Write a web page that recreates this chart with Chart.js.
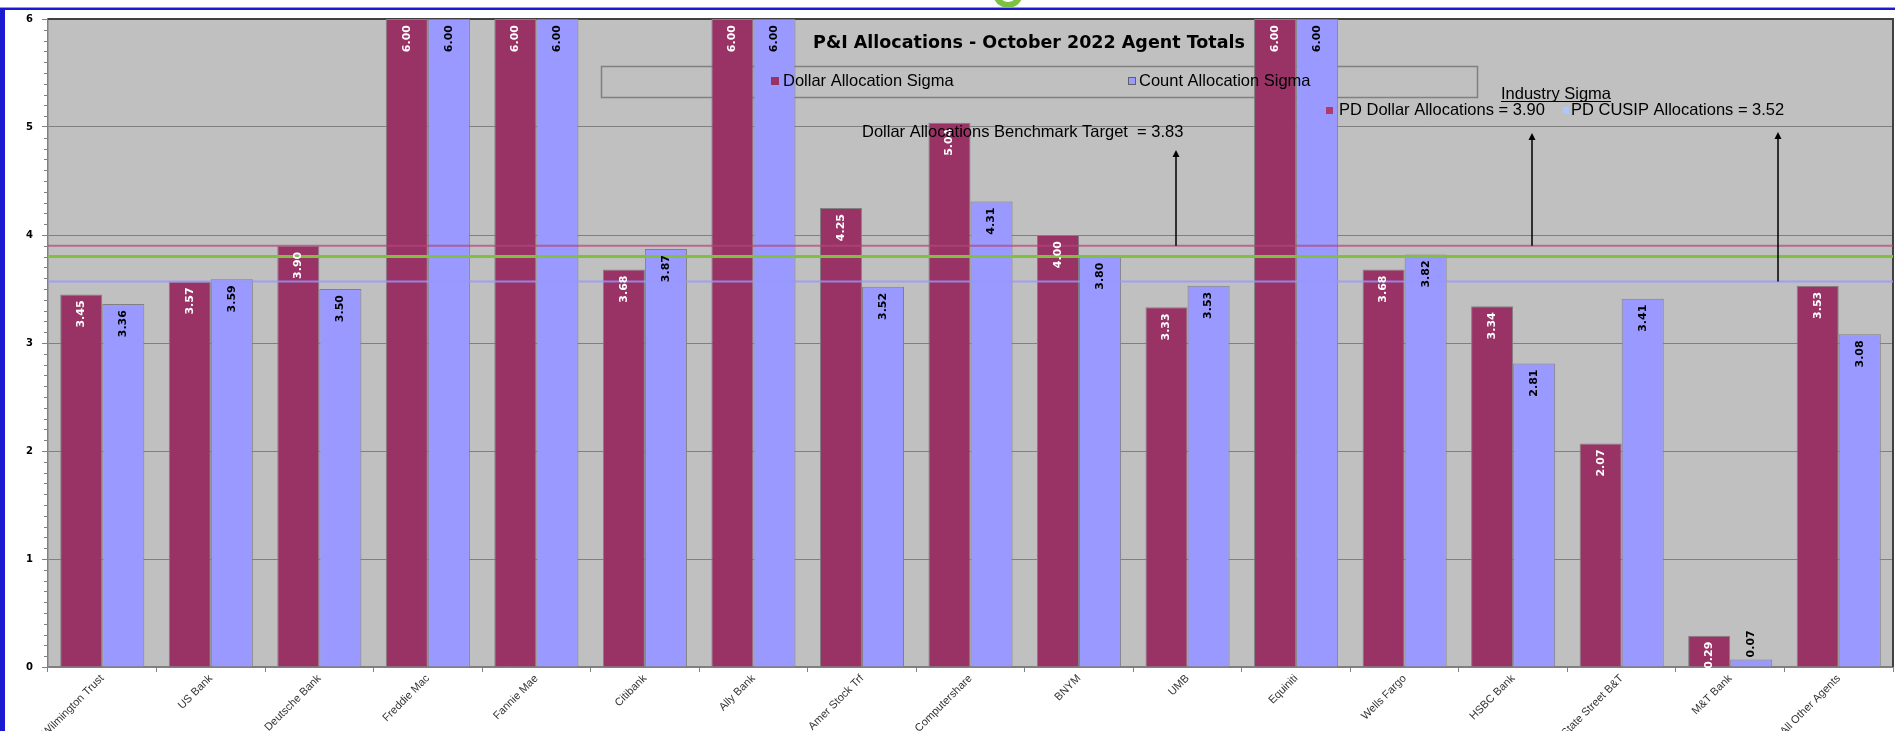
<!DOCTYPE html>
<html>
<head>
<meta charset="utf-8">
<script src="https://cdn.jsdelivr.net/npm/chart.js@4/dist/chart.umd.min.js"></script>
<style>
html, body { margin: 0; padding: 0; background: #fff; overflow: hidden; }
#wrap { width: 1895px; height: 731px; position: relative; }
</style>
</head>
<body>
<div id="wrap"><canvas id="myChart"></canvas></div>
<script>
// Agents on the x axis
const agents = ['Wilmington Trust', 'US Bank', 'Deutsche Bank', 'Freddie Mac', 'Fannie Mae', 'Citibank',
    'Ally Bank', 'Amer Stock Trf', 'Computershare', 'BNYM', 'UMB', 'Equiniti', 'Wells Fargo',
    'HSBC Bank', 'State Street B&T', 'M&T Bank', 'All Other Agents'];

// Sigma values per agent
const dollarSigma = [3.45, 3.57, 3.90, 6.00, 6.00, 3.68, 6.00, 4.25, 5.04, 4.00, 3.33, 6.00, 3.68, 3.34, 2.07, 0.29, 3.53];
const countSigma  = [3.36, 3.59, 3.50, 6.00, 6.00, 3.87, 6.00, 3.52, 4.31, 3.80, 3.53, 6.00, 3.82, 2.81, 3.41, 0.07, 3.08];

// y axis ticks
const yTicks = [0, 1, 2, 3, 4, 5, 6];

// reference lines (where they sit on the chart)
const dollarIndustryLine = 3.90;
const benchmarkLine = 3.80;
const cusipIndustryLine = 3.57;

// annotation values (as printed)
const benchmarkTarget = '3.83';
const industryDollar = '3.90';
const industryCusip = '3.52';

const DOLLAR_COLOR = '#993366';
const COUNT_COLOR = '#9999FF';
const NOTE_FONT = '16.5px "Liberation Sans"';

function arrow(ctx, x, yTop, yBottom) {
    ctx.save();
    ctx.strokeStyle = '#000';
    ctx.fillStyle = '#000';
    ctx.lineWidth = 1.5;
    ctx.beginPath();
    ctx.moveTo(x, yBottom);
    ctx.lineTo(x, yTop + 5);
    ctx.stroke();
    ctx.beginPath();
    ctx.moveTo(x, yTop);
    ctx.lineTo(x - 3.5, yTop + 7);
    ctx.lineTo(x + 3.5, yTop + 7);
    ctx.closePath();
    ctx.fill();
    ctx.restore();
}

const backdrop = {
    id: 'backdrop',
    beforeDraw(chart) {
        const ctx = chart.ctx;
        const a = chart.chartArea;
        ctx.save();
        ctx.fillStyle = '#fff';
        ctx.fillRect(0, 0, chart.width, chart.height);
        // page frame
        ctx.fillStyle = '#9a9ab0';
        ctx.fillRect(0, 7, chart.width, 1);
        ctx.fillStyle = '#1a1ad0';
        ctx.fillRect(0, 8, chart.width, 2);
        ctx.fillRect(0, 8, 5, chart.height);
        // bit of a logo cut off at the top
        ctx.strokeStyle = '#7cc242';
        ctx.lineWidth = 6;
        ctx.beginPath();
        ctx.arc(1008, -7, 12, 0.15 * Math.PI, 0.95 * Math.PI);
        ctx.stroke();
        // plot background
        ctx.fillStyle = '#C0C0C0';
        ctx.fillRect(a.left, a.top, a.right - a.left, a.bottom - a.top);
        ctx.restore();
    },
    beforeDatasetsDraw(chart) {
        const ctx = chart.ctx;
        const a = chart.chartArea;
        const y = chart.scales.y;
        ctx.save();
        // dark top / right border
        ctx.strokeStyle = '#404040';
        ctx.lineWidth = 2;
        ctx.beginPath();
        ctx.moveTo(a.left, a.top);
        ctx.lineTo(a.right, a.top);
        ctx.lineTo(a.right, a.bottom);
        ctx.stroke();
        // minor ticks on y axis
        ctx.strokeStyle = '#808080';
        ctx.lineWidth = 1;
        for (let v = 0; v < 6; v += 1) {
            for (let k = 1; k < 10; k++) {
                const py = Math.round(y.getPixelForValue(v + k / 10)) + 0.5;
                ctx.beginPath();
                ctx.moveTo(a.left - 4, py);
                ctx.lineTo(a.left, py);
                ctx.stroke();
            }
        }
        // legend box (sits behind the bars)
        ctx.strokeStyle = '#808080';
        ctx.lineWidth = 1.5;
        ctx.strokeRect(601.5, 66.5, 876, 31);
        ctx.restore();
    },
    afterDatasetsDraw(chart) {
        const ctx = chart.ctx;
        const a = chart.chartArea;
        const y = chart.scales.y;
        ctx.save();

        // reference lines
        const lines = [
            [dollarIndustryLine, 'rgba(180, 70, 120, 0.7)', 2],
            [benchmarkLine, '#80c040', 3],
            [cusipIndustryLine, 'rgba(150, 150, 255, 0.8)', 2]
        ];
        lines.forEach(([v, col, w]) => {
            const py = y.getPixelForValue(v);
            ctx.strokeStyle = col;
            ctx.lineWidth = w;
            ctx.beginPath();
            ctx.moveTo(a.left, py);
            ctx.lineTo(a.right, py);
            ctx.stroke();
        });

        // value labels, rotated
        ctx.font = 'bold 11px "DejaVu Sans"';
        ctx.textBaseline = 'middle';
        chart.data.datasets.forEach((ds, di) => {
            const meta = chart.getDatasetMeta(di);
            meta.data.forEach((bar, i) => {
                const txt = ds.data[i].toFixed(2);
                const h = bar.base - bar.y;
                ctx.save();
                ctx.fillStyle = di === 0 ? '#fff' : '#000';
                if (h < 20) {
                    ctx.translate(bar.x, bar.y - 2);
                    ctx.rotate(-Math.PI / 2);
                    ctx.textAlign = 'left';
                    ctx.fillStyle = '#000';
                } else {
                    ctx.translate(bar.x, bar.y + 6);
                    ctx.rotate(-Math.PI / 2);
                    ctx.textAlign = 'right';
                }
                ctx.fillText(txt, 0, 0);
                ctx.restore();
            });
        });

        // title
        ctx.fillStyle = '#000';
        ctx.textAlign = 'center';
        ctx.font = 'bold 17.5px "DejaVu Sans"';
        ctx.fillText('P&I Allocations - October 2022 Agent Totals', 1029, 43);

        // legend
        ctx.textAlign = 'left';
        ctx.font = NOTE_FONT;
        ctx.fillStyle = DOLLAR_COLOR;
        ctx.fillRect(771, 77, 8, 8);
        ctx.fillStyle = COUNT_COLOR;
        ctx.fillRect(1128, 77, 8, 8);
        ctx.strokeStyle = '#606060';
        ctx.lineWidth = 1;
        ctx.strokeRect(1128.5, 77.5, 7, 7);
        ctx.fillStyle = '#000';
        ctx.fillText('Dollar Allocation Sigma', 783, 81);
        ctx.fillText('Count Allocation Sigma', 1139, 81);

        // benchmark annotation
        ctx.fillText('Dollar Allocations Benchmark Target  = ' + benchmarkTarget, 862, 132);
        arrow(ctx, 1176, 150, y.getPixelForValue(dollarIndustryLine));

        // industry sigma annotation
        ctx.fillText('Industry Sigma', 1501, 94);
        const w = ctx.measureText('Industry Sigma').width;
        ctx.fillRect(1501, 101, w, 1);
        ctx.fillStyle = '#b03a6a';
        ctx.fillRect(1326, 107, 7, 7);
        ctx.fillStyle = '#a8c8ff';
        ctx.fillRect(1563, 107, 6, 7);
        ctx.fillStyle = '#000';
        ctx.fillText('PD Dollar Allocations = ' + industryDollar, 1339, 110);
        ctx.fillText('PD CUSIP Allocations = ' + industryCusip, 1571, 110);
        arrow(ctx, 1532, 133, y.getPixelForValue(dollarIndustryLine));
        arrow(ctx, 1778, 132, y.getPixelForValue(cusipIndustryLine));

        ctx.restore();
    }
};

const data = {
    labels: agents,
    datasets: [
        {
            label: 'Dollar Allocation Sigma',
            data: dollarSigma,
            backgroundColor: DOLLAR_COLOR,
            borderColor: '#808080',
            borderWidth: 1
        },
        {
            label: 'Count Allocation Sigma',
            data: countSigma,
            backgroundColor: COUNT_COLOR,
            borderColor: '#808080',
            borderWidth: 1
        }
    ]
};

const config = {
    type: 'bar',
    data: data,
    options: {
        responsive: true,
        maintainAspectRatio: false,
        animation: false,
        devicePixelRatio: 1,
        layout: { padding: { top: 19, right: 2, left: 0, bottom: 0 } },
        datasets: { bar: { barPercentage: 1, categoryPercentage: 0.775 } },
        plugins: {
            legend: { display: false },
            tooltip: { enabled: false }
        },
        scales: {
            x: {
                offset: true,
                grid: { display: true, drawOnChartArea: false, drawTicks: true, tickLength: 5, color: '#808080', offset: true },
                border: { color: '#808080', width: 1.5 },
                ticks: {
                    autoSkip: false,
                    maxRotation: 45,
                    minRotation: 45,
                    padding: 0,
                    color: '#333',
                    font: { family: 'Liberation Sans', size: 11 }
                },
                afterFit(scale) {
                    scale.height = 64;
                    scale.paddingLeft = 0;
                    scale.paddingRight = 0;
                }
            },
            y: {
                min: yTicks[0],
                max: yTicks[yTicks.length - 1],
                afterBuildTicks(scale) {
                    scale.ticks = yTicks.map(v => ({ value: v }));
                },
                grid: { color: '#808080', lineWidth: 1, tickLength: 6 },
                border: { color: '#808080', width: 1.5 },
                ticks: {
                    padding: 9,
                    color: '#000',
                    font: { family: 'DejaVu Sans', size: 10, weight: 'bold' }
                },
                afterFit(scale) {
                    scale.width = 48;
                }
            }
        }
    },
    plugins: [backdrop]
};

const myChart = new Chart(document.getElementById('myChart'), config);
</script>
</body>
</html>
